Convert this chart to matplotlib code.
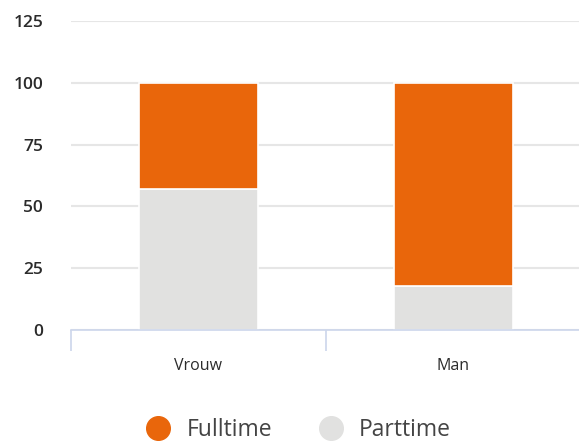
import matplotlib.pyplot as plt
from matplotlib.lines import Line2D

# data
categories = ['Vrouw', 'Man']
parttime = [57, 18]
fulltime = [43, 82]
series_names = ['Fulltime', 'Parttime']

orange = '#e9660b'
grey = '#e1e1e0'
text_col = '#2b2b2b'

plt.rcParams['font.family'] = ['Open Sans', 'DejaVu Sans']

fig = plt.figure(figsize=(5.79, 4.43), dpi=100)
ax = fig.add_axes([71 / 579, 113 / 443, 510 / 579, 309 / 443])

x = range(len(categories))
ax.bar(x, parttime, width=0.47, color=grey, edgecolor='white', linewidth=1.2, zorder=2)
ax.bar(x, fulltime, bottom=parttime, width=0.47, color=orange, edgecolor='white', linewidth=1.2, zorder=2)

ax.set_xlim(-0.5, 1.5)
ax.set_ylim(0, 125)
ax.set_yticks([0, 25, 50, 75, 100, 125])
ax.grid(axis='y', color='#e6e6e6', linewidth=1.5, zorder=0)
ax.set_axisbelow(True)

for s in ['top', 'right', 'left']:
    ax.spines[s].set_visible(False)
ax.spines['bottom'].set_color('#ccd6eb')
ax.spines['bottom'].set_linewidth(1.2)

ax.set_xticks(list(x))
ax.set_xticklabels(categories, fontweight='medium')
ax.set_xticks([-0.5, 0.5, 1.5], minor=True)
ax.tick_params(axis='x', which='major', length=0, pad=20, labelsize=11.5, labelcolor=text_col)
ax.tick_params(axis='x', which='minor', length=15, width=1.2, color='#ccd6eb')
ax.tick_params(axis='y', length=0, pad=20, labelsize=12.5, labelcolor=text_col)
for lab in ax.get_yticklabels():
    lab.set_fontweight('semibold')

handles = [Line2D([], [], linestyle='none', marker='o', markersize=17, color=orange),
           Line2D([], [], linestyle='none', marker='o', markersize=17, color=grey)]
fig.legend(handles, series_names, loc='center', bbox_to_anchor=(0.513, 0.03), ncol=2,
           frameon=False, fontsize=16.5, labelcolor='#444444', handletextpad=0.6,
           columnspacing=1.9, handlelength=1.3)

fig.savefig('out.png', dpi=100)
